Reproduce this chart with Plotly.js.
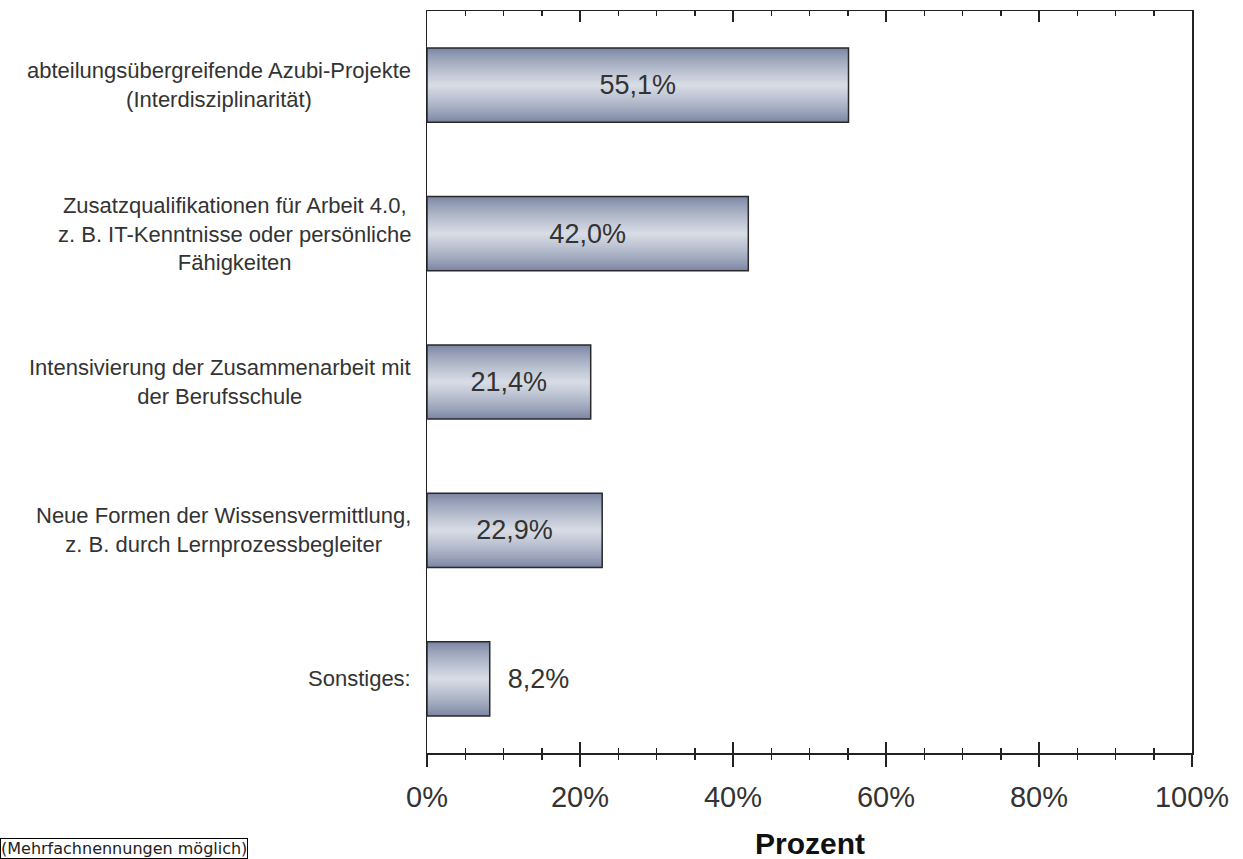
<!DOCTYPE html>
<html>
<head>
<meta charset="utf-8">
<script src="https://cdn.plot.ly/plotly-3.0.1.min.js"></script>
<style>
  html, body { margin: 0; padding: 0; background: #fff; }
  #chart { width: 1243px; height: 859px; }
</style>
</head>
<body>
<div id="chart"></div>
<script>
// ---- data ----
const categories = [
  "abteilungsübergreifende Azubi-Projekte<br>(Interdisziplinarität)",
  "Zusatzqualifikationen für Arbeit 4.0,<br>z. B. IT-Kenntnisse oder persönliche<br>Fähigkeiten",
  "Intensivierung der Zusammenarbeit mit<br>der Berufsschule",
  "Neue Formen der Wissensvermittlung,<br>z. B. durch Lernprozessbegleiter",
  "Sonstiges:"
];
const values = [55.1, 42.0, 21.4, 22.9, 8.2];
const tickValues = [0, 20, 40, 60, 80, 100];
const tickLabels = ["0%", "20%", "40%", "60%", "80%", "100%"];
const minorTickValues = [5, 10, 15, 25, 30, 35, 45, 50, 55, 65, 70, 75, 85, 90, 95];
const axisTitle = "Prozent";
const footnote = "(Mehrfachnennungen möglich)";

// ---- styling ----
const FONT = "Liberation Sans, Arial, Helvetica, sans-serif";
const dark = [123, 133, 163];
const light = [214, 219, 228];
const N = 22;
const fullWidth = 0.5;

const fmt = v => v.toFixed(1).replace('.', ',') + '%';

const traces = [];
for (let i = 0; i < N; i++) {
  const t = i / (N - 1);
  const f = Math.pow(t, 0.8);
  const col = dark.map((d, k) => Math.round(d + (light[k] - d) * f));
  traces.push({
    type: 'bar',
    orientation: 'h',
    y: categories,
    x: values,
    width: fullWidth * (1 - i / N),
    marker: { color: 'rgb(' + col.join(',') + ')', line: { width: 0 } },
    hoverinfo: 'skip',
    showlegend: false
  });
}
// outline + labels on top
traces.push({
  type: 'bar',
  orientation: 'h',
  y: categories,
  x: values,
  width: fullWidth,
  marker: { color: 'rgba(0,0,0,0)', line: { color: '#2a2a2a', width: 1.5 } },
  text: values.map(v => v < 10 ? '\u00a0\u00a0' + fmt(v) : fmt(v)),
  textposition: values.map(v => v < 10 ? 'outside' : 'inside'),
  insidetextanchor: 'middle',
  textfont: { family: FONT, size: 27, color: '#333333' },
  insidetextfont: { family: FONT, size: 27, color: '#333333' },
  outsidetextfont: { family: FONT, size: 27, color: '#333333' },
  constraintext: 'none',
  cliponaxis: false,
  hoverinfo: 'skip',
  showlegend: false
});
// overlay axis for ticks crossing the axis line
traces.push({
  type: 'scatter', mode: 'markers', x: [0], y: [categories[0]],
  xaxis: 'x2', yaxis: 'y', marker: { opacity: 0 }, hoverinfo: 'skip', showlegend: false
});

const annotations = categories.map(c => ({
  xref: 'paper', yref: 'y', x: 0, y: c, xanchor: 'right', yanchor: 'middle',
  xshift: -14, text: c, showarrow: false, align: 'center',
  font: { family: FONT, size: 22, color: '#333333' }
}));
annotations.push({
  xref: 'paper', yref: 'paper', x: 0.5, y: -(843 - 753) / 742, xanchor: 'center', yanchor: 'middle',
  text: '<b>' + axisTitle + '</b>', showarrow: false,
  font: { family: FONT, size: 30, color: '#111111' }
});
annotations.push({
  xref: 'paper', yref: 'paper', x: -427 / 765, y: -(838 - 753) / 742, xanchor: 'left', yanchor: 'top',
  text: footnote, showarrow: false, bordercolor: '#000', borderwidth: 1, borderpad: 0,
  font: { family: "DejaVu Sans, Verdana, sans-serif", size: 16, color: '#222222' }
});

const layout = {
  width: 1243, height: 859,
  margin: { l: 427, r: 51, t: 11, b: 106 },
  paper_bgcolor: '#ffffff', plot_bgcolor: '#ffffff',
  barmode: 'overlay',
  showlegend: false,
  font: { family: FONT, color: '#333333' },
  xaxis: {
    range: [0, 100], fixedrange: true,
    tickvals: tickValues, ticktext: tickLabels,
    ticks: 'outside', ticklen: 12, tickwidth: 1.5, tickcolor: '#222',
    minor: { tickvals: minorTickValues, ticks: 'outside', ticklen: 5, tickwidth: 1.5, tickcolor: '#222' },
    showline: true, linecolor: '#222', linewidth: 1.5, mirror: true,
    showgrid: false, zeroline: false,
    tickfont: { family: FONT, size: 29, color: '#333333' },
    ticklabelstandoff: 6
  },
  xaxis2: {
    overlaying: 'x', side: 'bottom', anchor: 'y', matches: 'x', range: [0, 100],
    tickvals: tickValues, showticklabels: false,
    ticks: 'inside', ticklen: 11, tickwidth: 1.5, tickcolor: '#222',
    minor: { tickvals: minorTickValues, ticks: 'inside', ticklen: 5, tickwidth: 1.5, tickcolor: '#222' },
    showline: false, mirror: 'ticks', showgrid: false, zeroline: false
  },
  yaxis: {
    type: 'category', autorange: 'reversed', fixedrange: true,
    showticklabels: false, ticks: '', showgrid: false, zeroline: false,
    showline: true, linecolor: '#222', linewidth: 1.5, mirror: true
  },
  annotations: annotations
};

Plotly.newPlot('chart', traces, layout, { displayModeBar: false, staticPlot: true });
</script>
</body>
</html>
